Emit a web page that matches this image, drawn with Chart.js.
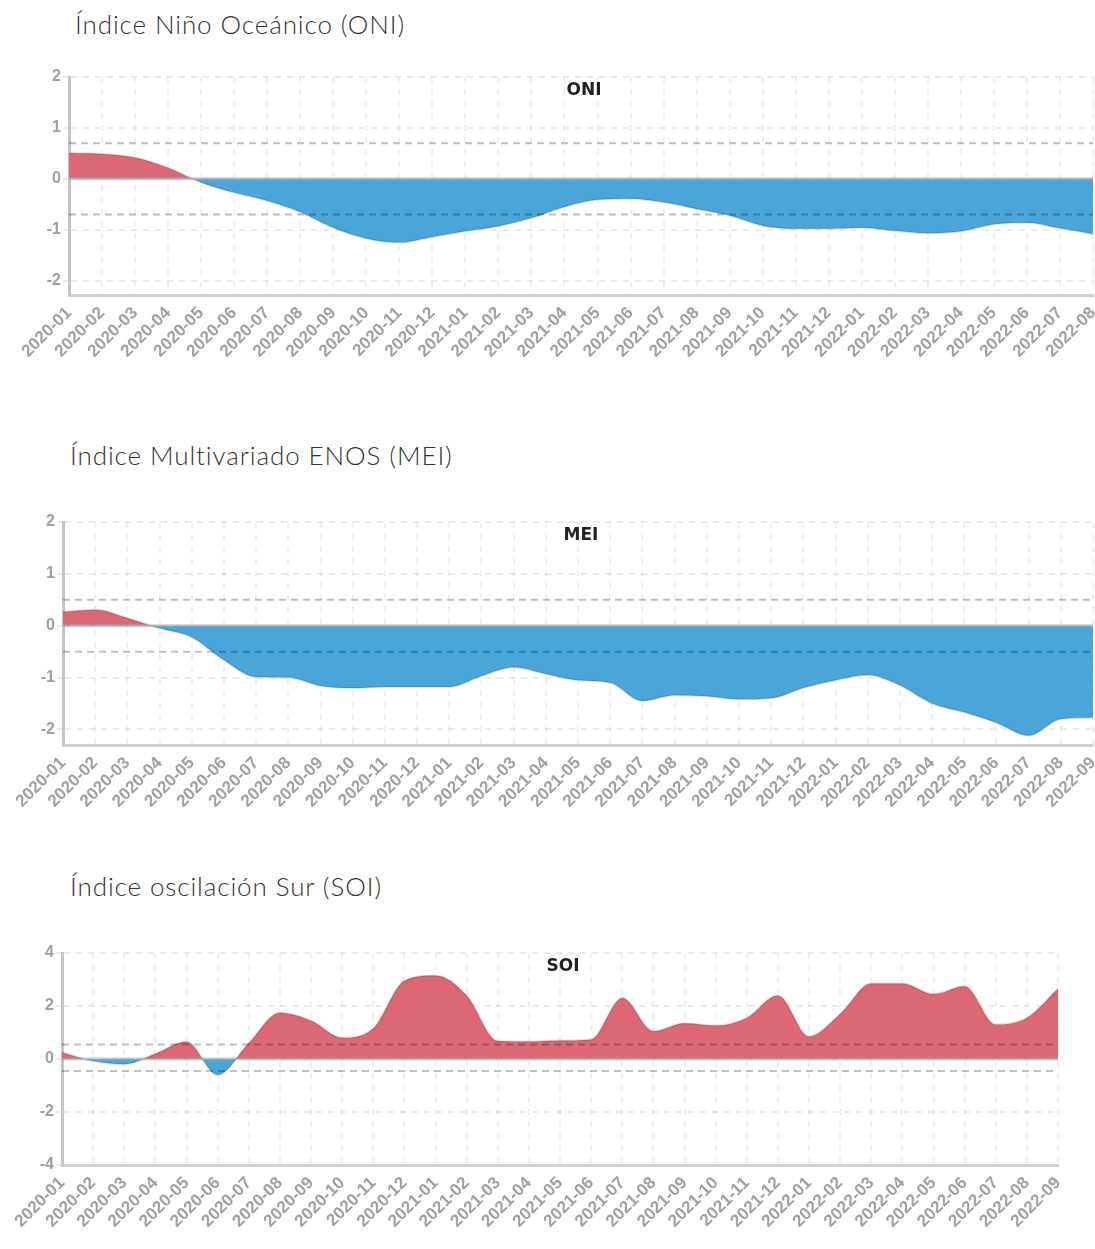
<!DOCTYPE html>
<html lang="es">
<head>
<meta charset="utf-8">
<title>Índices ENOS</title>
<script src="https://cdn.jsdelivr.net/npm/chart.js@4.4.1/dist/chart.umd.min.js"></script>
<style>
  html, body { margin: 0; padding: 0; background: #fff; }
  body { width: 1095px; height: 1249px; position: relative; overflow: hidden; font-family: Lato, "Open Sans", sans-serif; }
  .titulo { position: absolute; margin: 0; font-weight: 300; font-size: 26px; letter-spacing: 0.9px; line-height: 30px; color: #333; white-space: nowrap; }
  .caja { position: absolute; left: 0; width: 1095px; }
</style>
</head>
<body>

<h2 class="titulo" style="left:75px; top:9px">Índice Niño Oceánico (ONI)</h2>
<div class="caja" style="top:60px; height:340px"><canvas id="oniChart"></canvas></div>

<h2 class="titulo" style="left:70px; top:440px">Índice Multivariado ENOS (MEI)</h2>
<div class="caja" style="top:500px; height:350px"><canvas id="meiChart"></canvas></div>

<h2 class="titulo" style="left:70px; top:871px">Índice oscilación Sur (SOI)</h2>
<div class="caja" style="top:925px; height:324px"><canvas id="soiChart"></canvas></div>

<script>
// categorias (meses)
var mesesONI = ["2020-01", "2020-02", "2020-03", "2020-04", "2020-05", "2020-06", "2020-07", "2020-08",
    "2020-09", "2020-10", "2020-11", "2020-12", "2021-01", "2021-02", "2021-03", "2021-04",
    "2021-05", "2021-06", "2021-07", "2021-08", "2021-09", "2021-10", "2021-11", "2021-12",
    "2022-01", "2022-02", "2022-03", "2022-04", "2022-05", "2022-06", "2022-07", "2022-08"];
var meses = ["2020-01", "2020-02", "2020-03", "2020-04", "2020-05", "2020-06", "2020-07", "2020-08",
    "2020-09", "2020-10", "2020-11", "2020-12", "2021-01", "2021-02", "2021-03", "2021-04",
    "2021-05", "2021-06", "2021-07", "2021-08", "2021-09", "2021-10", "2021-11", "2021-12",
    "2022-01", "2022-02", "2022-03", "2022-04", "2022-05", "2022-06", "2022-07", "2022-08", "2022-09"];

// series
var oni = [0.51, 0.49, 0.42, 0.22, -0.07, -0.27, -0.43, -0.65, -0.96, -1.17, -1.25, -1.14, -1.03, -0.93, -0.77, -0.55,
    -0.41, -0.39, -0.46, -0.59, -0.72, -0.92, -0.98, -0.98, -0.96, -1.02, -1.07, -1.03, -0.89, -0.86, -0.97, -1.08];
var mei = [0.27, 0.31, 0.15, -0.05, -0.22, -0.66, -0.99, -1.0, -1.16, -1.2, -1.18, -1.18, -1.18, -0.97, -0.8, -0.93,
    -1.05, -1.1, -1.45, -1.34, -1.36, -1.42, -1.4, -1.2, -1.05, -0.95, -1.15, -1.5, -1.67, -1.87, -2.12, -1.8, -1.77];
var soi = [0.25, -0.08, -0.2, 0.2, 0.65, -0.6, 0.6, 1.75, 1.45, 0.8, 1.15, 2.95, 3.15, 2.4, 0.68, 0.66,
    0.7, 0.74, 2.3, 1.05, 1.35, 1.26, 1.55, 2.4, 0.85, 1.7, 2.85, 2.85, 2.45, 2.75, 1.3, 1.55, 2.65];

// umbrales y marcas del eje y
var umbralesONI = [0.7, -0.7];
var umbralesMEI = [0.5, -0.5];
var umbralesSOI = [0.55, -0.45];
var ticksONI = [-2, -1, 0, 1, 2];
var ticksMEI = [-2, -1, 0, 1, 2];
var ticksSOI = [-4, -2, 0, 2, 4];

var rojo = '#dc6874';
var azul = '#4aa6d9';

var tituloInterno = {
    id: 'tituloInterno',
    afterDatasetsDraw: function (chart, args, opts) {
        var ctx = chart.ctx, a = chart.chartArea;
        ctx.save();
        ctx.font = 'bold 17px "DejaVu Sans", sans-serif';
        ctx.fillStyle = '#222';
        ctx.textAlign = 'center';
        ctx.textBaseline = 'middle';
        ctx.fillText(opts.text, (a.left + a.right) / 2 + 3, a.top + 14);
        ctx.restore();
    }
};

function grafico(id, nombre, etiquetas, valores, umbrales, marcas, yMin, yMax, c) {
    var datasets = [{
        label: nombre,
        data: valores,
        fill: { target: 'origin', above: rojo, below: azul },
        borderColor: 'rgba(0,0,0,0.12)',
        borderWidth: 2,
        pointRadius: 0,
        tension: 0.4,
        cubicInterpolationMode: 'monotone',
        order: 3
    }, {
        label: 'cero',
        data: etiquetas.map(function () { return 0; }),
        borderColor: 'rgba(160,165,170,0.55)',
        borderWidth: 3,
        pointRadius: 0,
        fill: false,
        order: 2
    }];
    umbrales.forEach(function (u) {
        datasets.push({
            label: 'umbral ' + u,
            data: etiquetas.map(function () { return u; }),
            borderColor: 'rgba(0,0,0,0.25)',
            borderWidth: 2,
            borderDash: [7, 5],
            pointRadius: 0,
            fill: false,
            order: 1
        });
    });

    return new Chart(document.getElementById(id).getContext('2d'), {
        type: 'line',
        data: { labels: etiquetas, datasets: datasets },
        plugins: [tituloInterno],
        options: {
            responsive: true,
            maintainAspectRatio: false,
            animation: false,
            layout: { padding: { top: c.arriba, right: c.derecha, left: 0, bottom: 0 } },
            plugins: {
                legend: { display: false },
                tooltip: { enabled: false },
                tituloInterno: { text: nombre }
            },
            scales: {
                x: {
                    afterFit: function (s) { s.height = c.altoX; s.paddingRight = 0; },
                    grid: { color: 'rgba(0,0,0,0.06)', lineWidth: 2, drawTicks: false },
                    border: { color: '#d2d2d2', width: 3, dash: [6, 6] },
                    ticks: {
                        color: '#a0a0a0', font: { family: '"Liberation Sans", sans-serif', size: 17, weight: 'bold' },
                        maxRotation: 45, minRotation: 45, autoSkip: false, padding: 8
                    }
                },
                y: {
                    min: yMin,
                    max: yMax,
                    afterBuildTicks: function (s) { s.ticks = marcas.map(function (v) { return { value: v }; }); },
                    afterFit: function (s) { s.width = c.anchoY; },
                    grid: { color: 'rgba(0,0,0,0.08)', lineWidth: 2, tickLength: 6 },
                    border: { color: '#c4c4c4', width: 3, dash: [6, 6] },
                    ticks: { color: '#a0a0a0', font: { family: '"Liberation Sans", sans-serif', size: 16, weight: 'bold' }, padding: 2 }
                }
            }
        }
    });
}

grafico('oniChart', 'ONI', mesesONI, oni, umbralesONI, ticksONI, -2.28, 2, { arriba: 17, derecha: 2, altoX: 105, anchoY: 69 });
grafico('meiChart', 'MEI', meses, mei, umbralesMEI, ticksMEI, -2.3, 2, { arriba: 22, derecha: 2, altoX: 105, anchoY: 63 });
grafico('soiChart', 'SOI', meses, soi, umbralesSOI, ticksSOI, -4, 4, { arriba: 28, derecha: 37, altoX: 84, anchoY: 62 });
</script>
</body>
</html>
